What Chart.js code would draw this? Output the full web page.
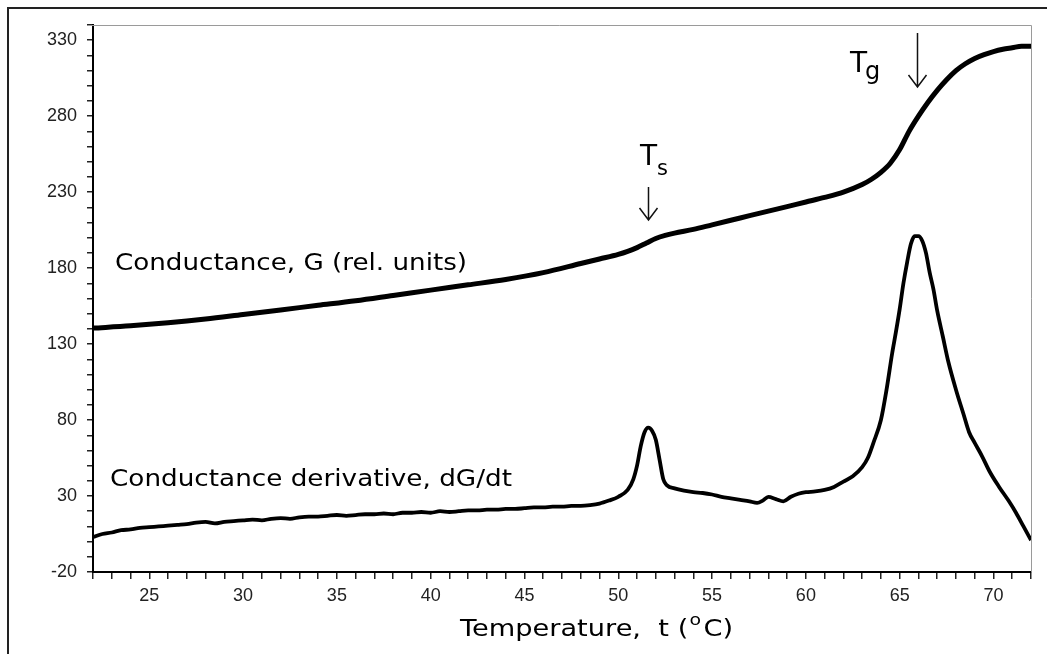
<!DOCTYPE html>
<html>
<head>
<meta charset="utf-8">
<title>Conductance vs temperature</title>
<script src="https://cdn.jsdelivr.net/npm/chart.js@4.4.1/dist/chart.umd.min.js"></script>
<style>
  html, body { margin: 0; padding: 0; background: #fff; }
  #wrap { position: relative; width: 1047px; height: 654px; }
</style>
</head>
<body>
<div id="wrap"><canvas id="chart" width="1047" height="654"></canvas></div>
<script>
// Conductance G (rel. units) vs temperature
const tempG = [22, 24, 26, 28, 30, 32, 34, 36, 38, 40, 42, 44, 46, 48, 49, 50, 50.5, 51, 51.5, 52, 52.5, 53, 54, 55, 56, 57, 58, 59, 60, 61, 62, 63, 63.5, 64, 64.5, 65, 65.5, 66, 66.5, 67, 67.5, 68, 68.5, 69, 69.5, 70, 70.5, 71, 71.5, 72];
const condG = [140.5, 142, 144, 146.5, 149.5, 152.5, 155.5, 158.5, 162, 165.5, 169, 172.5, 177, 183, 186, 189, 191, 193.5, 196.5, 199.5, 201.5, 203, 205.5, 208.5, 211.5, 214.5, 217.5, 220.5, 223.5, 226.5, 230, 235, 238.5, 243, 249, 258, 270, 280, 289, 297, 304, 310, 314.5, 318, 320.5, 322.5, 324, 325, 326, 326];

// Conductance derivative dG/dt vs temperature
const tempD = [22, 22.5, 23, 23.5, 24, 24.5, 25, 25.5, 26, 26.5, 27, 27.5, 28, 28.5, 29, 29.5, 30, 30.5, 31, 31.5, 32, 32.5, 33, 33.5, 34, 34.5, 35, 35.5, 36, 36.5, 37, 37.5, 38, 38.5, 39, 39.5, 40, 40.5, 41, 41.5, 42, 42.5, 43, 43.5, 44, 44.5, 45, 45.5, 46, 46.5, 47, 47.5, 48, 48.5, 49, 49.5, 50, 50.5, 50.8, 51, 51.2, 51.4, 51.6, 51.8, 52, 52.2, 52.4, 52.6, 53, 53.5, 54, 54.5, 55, 55.5, 56, 56.5, 57, 57.4, 57.7, 58, 58.4, 58.8, 59.2, 59.6, 60, 60.5, 61, 61.5, 62, 62.5, 63, 63.3, 63.6, 64, 64.3, 64.6, 64.8, 65, 65.2, 65.4, 65.6, 65.8, 66, 66.2, 66.4, 66.6, 66.8, 67, 67.3, 67.6, 68, 68.4, 68.7, 69, 69.4, 69.8, 70.3, 70.8, 71.2, 71.6, 72];
const derivD = [3, 5, 6, 7.5, 8, 9, 9.5, 10, 10.5, 11, 11.5, 12.5, 13, 12, 13, 13.5, 14, 14.5, 14, 15, 15.5, 15, 16, 16.5, 16.5, 17, 17.5, 17, 17.5, 18, 18, 18.5, 18, 19, 19, 19.5, 19, 20, 19.5, 20, 20.5, 20.5, 21, 21, 21.5, 21.5, 22, 22.5, 22.5, 23, 23, 23.5, 23.5, 24, 25, 27, 29.5, 34, 41, 50, 63, 72, 75, 73, 67, 54, 41, 37, 35, 33.5, 32.5, 32, 31, 29.5, 28.5, 27.5, 26.5, 25.5, 27, 29.5, 28, 26.5, 29.5, 31.5, 32.5, 33, 34, 36, 39.5, 43, 49, 55, 65, 80, 100, 124, 138, 153, 170, 184, 196, 201, 201, 198, 190, 177, 166, 152, 135, 118, 100, 84, 72, 65, 56, 46, 36, 27, 19, 10, 1];

// Axis ranges and labelled ticks
const xRange = [22, 72];
const yRange = [-20, 340];
const xLabelTicks = [25, 30, 35, 40, 45, 50, 55, 60, 65, 70];
const yLabelTicks = [-20, 30, 80, 130, 180, 230, 280, 330];

// Transition markers (T_s, T_g)
const markerTemps = [51.6, 65.9];
const markerSubs = ['s', 'g'];

const toPoints = (xs, ys) => xs.map((x, i) => ({ x: x, y: ys[i] }));

const TEXT_FONT = '"DejaVu Sans", Verdana, sans-serif';
const TICK_FONT = '"Liberation Sans", Arial, sans-serif';

// draw text stretched horizontally to a target width (wide Verdana-like look)
function drawFitted(ctx, text, x, y, width) {
    const w = ctx.measureText(text).width;
    ctx.save();
    ctx.translate(x, y);
    ctx.scale(width / w, 1);
    ctx.fillText(text, 0, 0);
    ctx.restore();
}

/**
 * Draws the outer frame, the grey plot box, annotations and the axis title
 */
const decorations = {
    id: 'decorations',
    beforeDraw(chart) {
        const ctx = chart.ctx;
        ctx.save();
        ctx.fillStyle = '#fff';
        ctx.fillRect(0, 0, chart.width, chart.height);
        // outer frame (only left and top edges are inside the picture)
        ctx.strokeStyle = '#222';
        ctx.lineWidth = 2;
        ctx.beginPath();
        ctx.moveTo(8, chart.height + 2);
        ctx.lineTo(8, 8);
        ctx.lineTo(chart.width + 2, 8);
        ctx.stroke();
        ctx.restore();
    },
    beforeDatasetsDraw(chart) {
        const { ctx, chartArea: a } = chart;
        ctx.save();
        ctx.strokeStyle = '#9a9a9a';
        ctx.lineWidth = 1;
        ctx.beginPath();
        ctx.moveTo(a.left - 5, a.top + 0.5);
        ctx.lineTo(a.right + 0.5, a.top + 0.5);
        ctx.lineTo(a.right + 0.5, a.bottom);
        ctx.stroke();
        ctx.restore();
    },
    afterDraw(chart) {
        const { ctx, scales } = chart;
        ctx.save();
        ctx.fillStyle = '#000';
        ctx.textBaseline = 'alphabetic';
        ctx.textAlign = 'left';

        // curve labels
        ctx.font = '23px ' + TEXT_FONT;
        drawFitted(ctx, 'Conductance, G (rel. units)', 115, 270, 352);
        drawFitted(ctx, 'Conductance derivative, dG/dt', 110, 486, 402);

        // arrows and T labels
        const arrowY = [[187, 220], [33, 87]];
        const labelPos = [[640, 165, 657, 175], [850, 72, 865, 79]];
        const subSize = [21, 24];
        markerTemps.forEach((t, i) => {
            const x = Math.round(scales.x.getPixelForValue(t)) + 0.5;
            const [y1, y2] = arrowY[i];
            ctx.strokeStyle = '#111';
            ctx.lineWidth = 1.5;
            ctx.beginPath();
            ctx.moveTo(x, y1);
            ctx.lineTo(x, y2);
            ctx.moveTo(x - 9, y2 - 12);
            ctx.lineTo(x, y2);
            ctx.lineTo(x + 9, y2 - 12);
            ctx.stroke();

            const [tx, ty, sx, sy] = labelPos[i];
            ctx.font = '28px ' + TEXT_FONT;
            ctx.fillText('T', tx, ty);
            ctx.font = subSize[i] + 'px ' + TEXT_FONT;
            ctx.fillText(markerSubs[i], sx, sy);
        });

        // x axis title with superscript degree mark, stretched to the reference width
        const base = 636;
        const big = '23px ' + TEXT_FONT;
        const small = '16px ' + TEXT_FONT;
        const part1 = 'Temperature,  t (';
        const part2 = 'C)';
        ctx.font = big;
        const w1 = ctx.measureText(part1).width;
        const w3 = ctx.measureText(part2).width;
        ctx.font = small;
        const w2 = ctx.measureText('o').width + 3;
        const sx = 273 / (w1 + w2 + w3);
        ctx.translate(460, base);
        ctx.scale(sx, 1);
        ctx.font = big;
        ctx.fillText(part1, 0, 0);
        ctx.font = small;
        ctx.fillText('o', w1 + 1, -11);
        ctx.font = big;
        ctx.fillText(part2, w1 + w2, 0);
        ctx.restore();
    }
};

new Chart(document.getElementById('chart'), {
    type: 'line',
    data: {
        datasets: [
            {
                label: 'Conductance, G (rel. units)',
                data: toPoints(tempG, condG),
                borderColor: '#000',
                borderWidth: 5,
                pointRadius: 0,
                cubicInterpolationMode: 'monotone',
                fill: false
            },
            {
                label: 'Conductance derivative, dG/dt',
                data: toPoints(tempD, derivD),
                borderColor: '#000',
                borderWidth: 3.8,
                pointRadius: 0,
                cubicInterpolationMode: 'monotone',
                fill: false
            }
        ]
    },
    options: {
        responsive: false,
        animation: false,
        layout: { padding: { left: 0, top: 25, right: 16, bottom: 0 } },
        plugins: {
            legend: { display: false },
            tooltip: { enabled: false }
        },
        scales: {
            x: {
                type: 'linear',
                min: xRange[0],
                max: xRange[1],
                afterFit: (scale) => { scale.height = 82; },
                border: { color: '#000', width: 2 },
                grid: { drawOnChartArea: false, drawTicks: true, tickLength: 7, color: '#222', lineWidth: 1.5 },
                ticks: {
                    stepSize: 1,
                    autoSkip: false,
                    maxRotation: 0,
                    padding: 6,
                    color: '#222',
                    font: { family: TICK_FONT, size: 18 },
                    callback: (v) => xLabelTicks.includes(v) ? String(v) : ''
                }
            },
            y: {
                type: 'linear',
                min: yRange[0],
                max: yRange[1],
                afterFit: (scale) => { scale.width = 93; },
                border: { color: '#000', width: 2 },
                grid: { drawOnChartArea: false, drawTicks: true, tickLength: 6, color: '#222', lineWidth: 1.5 },
                ticks: {
                    stepSize: 10,
                    autoSkip: false,
                    padding: 10,
                    color: '#222',
                    font: { family: TICK_FONT, size: 18 },
                    callback: (v) => yLabelTicks.includes(v) ? String(v) : ''
                }
            }
        }
    },
    plugins: [decorations]
});
</script>
</body>
</html>
